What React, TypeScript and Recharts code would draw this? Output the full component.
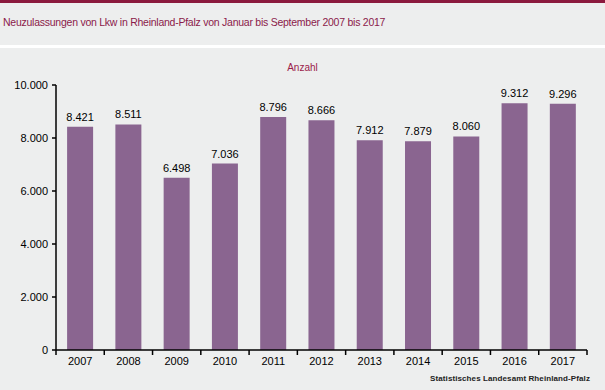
import { BarChart, Bar, XAxis, YAxis, LabelList } from "recharts";

const years = ["2007", "2008", "2009", "2010", "2011", "2012", "2013", "2014", "2015", "2016", "2017"];
const registrations = [8421, 8511, 6498, 7036, 8796, 8666, 7912, 7879, 8060, 9312, 9296];
const yTicks = [0, 2000, 4000, 6000, 8000, 10000];

const data = years.map((year, i) => ({ year, value: registrations[i] }));

const fmt = (v: number) => String(v).replace(/\B(?=(\d{3})+(?!\d))/g, ".");

const font = "'Liberation Sans', Arial, sans-serif";

const chartLeft = 56;
const chartRight = 18;
const halfBand = (605 - chartLeft - chartRight) / years.length / 2;

// category label plus tick marks at the band edges
function YearTick(props: any) {
  const { x, y, payload, index } = props;
  const last = index === years.length - 1;
  return (
    <g>
      <line x1={x - halfBand} x2={x - halfBand} y1={y - 8} y2={y - 3} stroke="#000" strokeWidth={1.5} />
      {last && <line x1={x + halfBand} x2={x + halfBand} y1={y - 8} y2={y - 3} stroke="#000" strokeWidth={1.5} />}
      <text x={x} y={y + 7} textAnchor="middle" fill="#000" fontSize={11} fontFamily={font}>
        {payload.value}
      </text>
    </g>
  );
}

export default function App() {
  return (
    <div
      style={{
        position: "absolute",
        left: 0,
        top: 0,
        width: 605,
        height: 390,
        background: "#FFFFFF",
        fontFamily: font,
        overflow: "hidden",
      }}
    >
      <div style={{ position: "absolute", left: 0, top: 0, width: 605, height: 3, background: "#8B1A3E" }} />
      <div
        style={{
          position: "absolute",
          left: 0,
          top: 3,
          width: 605,
          height: 42,
          background: "#EDEEEE",
        }}
      >
        <div
          style={{
            position: "absolute",
            left: 3,
            top: 13,
            fontSize: 10.5,
            color: "#8B1A4A",
            letterSpacing: -0.25,
            whiteSpace: "nowrap",
          }}
        >
          Neuzulassungen von Lkw in Rheinland-Pfalz von Januar bis September 2007 bis 2017
        </div>
      </div>
      <div style={{ position: "absolute", left: 0, top: 48, width: 605, height: 342, background: "#EDEEEE" }} />
      <div
        style={{
          position: "absolute",
          left: 0,
          top: 62,
          width: 605,
          textAlign: "center",
          fontSize: 10,
          color: "#9B1B4A",
        }}
      >
        Anzahl
      </div>
      <div
        style={{
          position: "absolute",
          right: 15,
          top: 374,
          fontSize: 8,
          fontWeight: "bold",
          color: "#222",
          letterSpacing: 0.1,
        }}
      >
        Statistisches Landesamt Rheinland-Pfalz
      </div>
      <div style={{ position: "absolute", left: 0, top: 0 }}>
        <BarChart
          width={605}
          height={390}
          data={data}
          margin={{ top: 85, right: chartRight, bottom: 10, left: 6 }}
          barCategoryGap="23%"
        >
          <XAxis
            dataKey="year"
            tickLine={false}
            axisLine={{ stroke: "#000", strokeWidth: 1.5 }}
            tick={<YearTick />}
            interval={0}
            height={30}
          />
          <YAxis
            domain={[0, 10000]}
            ticks={yTicks}
            tickFormatter={fmt}
            axisLine={{ stroke: "#000", strokeWidth: 1.5 }}
            tickLine={{ stroke: "#000", strokeWidth: 1.5 }}
            tickSize={4}
            tickMargin={4}
            tick={{ fill: "#000", fontSize: 11, fontFamily: font }}
            width={50}
          />
          <Bar dataKey="value" fill="#8A6590" isAnimationActive={false}>
            <LabelList
              dataKey="value"
              position="top"
              offset={6}
              formatter={(v: any) => fmt(Number(v))}
              style={{ fill: "#000", fontSize: 11, fontFamily: font }}
            />
          </Bar>
        </BarChart>
      </div>
    </div>
  );
}
